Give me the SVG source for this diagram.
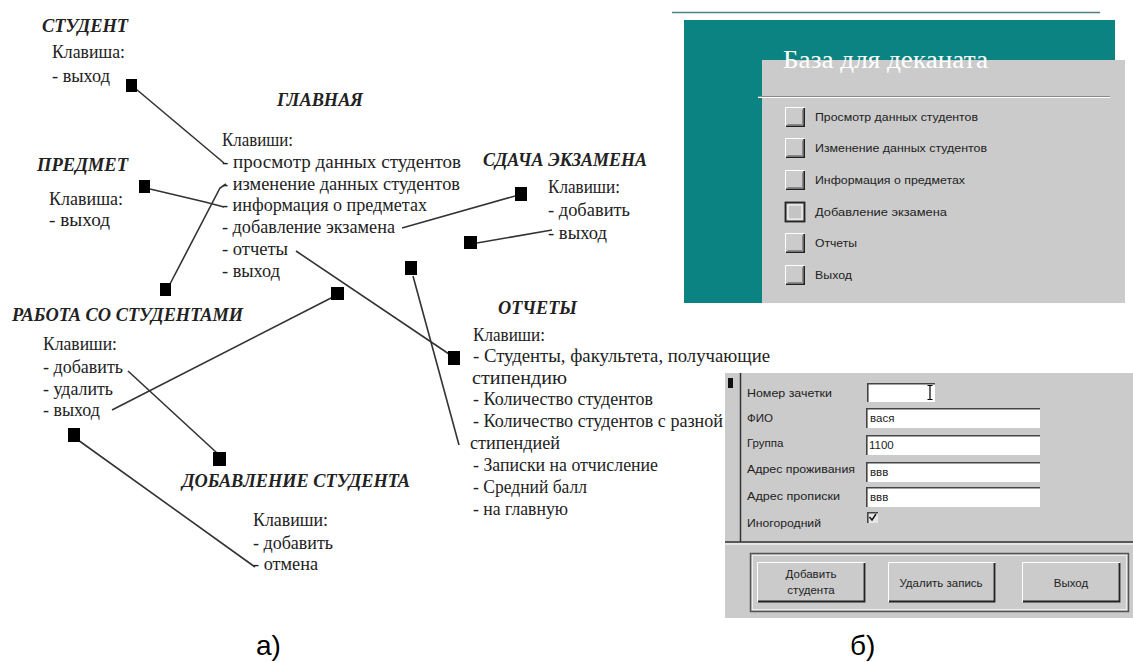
<svg xmlns="http://www.w3.org/2000/svg" xmlns:xlink="http://www.w3.org/1999/xlink" width="1133" height="662" viewBox="0 0 1133 662">
<style>
.h{font-family:"Liberation Serif",serif;font-weight:bold;font-style:italic;font-size:18.5px;fill:#222}
.t{font-family:"Liberation Serif",serif;font-size:18px;fill:#222}
.c{fill:none;stroke:#333;stroke-width:1.6}
.p{fill:#000}
.ui{font-family:"Liberation Sans",Arial,sans-serif;font-size:11.5px;fill:#222}
.fl{font-family:"Liberation Sans",Arial,sans-serif;font-size:11.5px;fill:#222}
.cap{font-family:"Liberation Sans",Arial,sans-serif;font-size:28px;fill:#000}
.box{fill:#fff}
.bd{fill:none;stroke:#444;stroke-width:1.6}
.hl{fill:none;stroke:#fff;stroke-width:1}
.sh{fill:none;stroke:#222;stroke-width:1.8}
</style>
<defs>
<g id="btn">
<rect width="20" height="20" fill="#cbcbcb"/>
<path d="M0.5 19.5V0.5H19.5" stroke="#fff" fill="none"/>
<path d="M1 19.2H19.2V1" stroke="#222" stroke-width="1.6" fill="none"/>
<path d="M2.5 17.5H17.5V2.5" stroke="#8a8a8a" fill="none"/>
</g>
</defs>
<rect width="1133" height="662" fill="#fff"/>

<g id="node-student">
<text class="h" x="42" y="32" textLength="86" lengthAdjust="spacingAndGlyphs">СТУДЕНТ</text>
<text class="t" x="52" y="58" textLength="73" lengthAdjust="spacingAndGlyphs">Клавиша:</text>
<text class="t" x="52" y="82" textLength="58" lengthAdjust="spacingAndGlyphs">- выход</text>
</g>

<g id="node-main">
<text class="h" x="277" y="106" textLength="86" lengthAdjust="spacingAndGlyphs">ГЛАВНАЯ</text>
<text class="t" x="222" y="146" textLength="71" lengthAdjust="spacingAndGlyphs">Клавиши:</text>
<text class="t" x="222" y="168" textLength="239" lengthAdjust="spacingAndGlyphs">- просмотр данных студентов</text>
<text class="t" x="222" y="190" textLength="238" lengthAdjust="spacingAndGlyphs">- изменение данных студентов</text>
<text class="t" x="222" y="211" textLength="205" lengthAdjust="spacingAndGlyphs">- информация о предметах</text>
<text class="t" x="222" y="233" textLength="173" lengthAdjust="spacingAndGlyphs">- добавление экзамена</text>
<text class="t" x="222" y="255" textLength="66" lengthAdjust="spacingAndGlyphs">- отчеты</text>
<text class="t" x="222" y="277" textLength="58" lengthAdjust="spacingAndGlyphs">- выход</text>
</g>

<g id="node-subject">
<text class="h" x="37" y="171" textLength="91" lengthAdjust="spacingAndGlyphs">ПРЕДМЕТ</text>
<text class="t" x="49" y="205" textLength="74" lengthAdjust="spacingAndGlyphs">Клавиша:</text>
<text class="t" x="49" y="226" textLength="61" lengthAdjust="spacingAndGlyphs">- выход</text>
</g>

<g id="node-exam">
<text class="h" x="483" y="166" textLength="164" lengthAdjust="spacingAndGlyphs">СДАЧА ЭКЗАМЕНА</text>
<text class="t" x="548" y="193" textLength="72" lengthAdjust="spacingAndGlyphs">Клавиши:</text>
<text class="t" x="548" y="216" textLength="82" lengthAdjust="spacingAndGlyphs">- добавить</text>
<text class="t" x="548" y="239" textLength="59" lengthAdjust="spacingAndGlyphs">- выход</text>
</g>

<g id="node-work">
<text class="h" x="12" y="321" textLength="231" lengthAdjust="spacingAndGlyphs">РАБОТА СО СТУДЕНТАМИ</text>
<text class="t" x="43" y="350" textLength="74" lengthAdjust="spacingAndGlyphs">Клавиши:</text>
<text class="t" x="43" y="373" textLength="80" lengthAdjust="spacingAndGlyphs">- добавить</text>
<text class="t" x="43" y="395" textLength="70" lengthAdjust="spacingAndGlyphs">- удалить</text>
<text class="t" x="43" y="416" textLength="57" lengthAdjust="spacingAndGlyphs">- выход</text>
</g>

<g id="node-reports">
<text class="h" x="498" y="314" textLength="79" lengthAdjust="spacingAndGlyphs">ОТЧЕТЫ</text>
<text class="t" x="473" y="341" textLength="72" lengthAdjust="spacingAndGlyphs">Клавиши:</text>
<text class="t" x="473" y="362" textLength="297" lengthAdjust="spacingAndGlyphs">- Студенты, факультета, получающие</text>
<text class="t" x="472" y="384" textLength="95" lengthAdjust="spacingAndGlyphs">стипендию</text>
<text class="t" x="473" y="405" textLength="180" lengthAdjust="spacingAndGlyphs">- Количество студентов</text>
<text class="t" x="473" y="427" textLength="250" lengthAdjust="spacingAndGlyphs">- Количество студентов с разной</text>
<text class="t" x="470" y="449" textLength="90" lengthAdjust="spacingAndGlyphs">стипендией</text>
<text class="t" x="473" y="471" textLength="185" lengthAdjust="spacingAndGlyphs">- Записки на отчисление</text>
<text class="t" x="473" y="493" textLength="114" lengthAdjust="spacingAndGlyphs">- Средний балл</text>
<text class="t" x="473" y="515" textLength="95" lengthAdjust="spacingAndGlyphs">- на главную</text>
</g>

<g id="node-add-student">
<text class="h" x="182" y="487" textLength="228" lengthAdjust="spacingAndGlyphs">ДОБАВЛЕНИЕ СТУДЕНТА</text>
<text class="t" x="253" y="526" textLength="75" lengthAdjust="spacingAndGlyphs">Клавиши:</text>
<text class="t" x="253" y="549" textLength="80" lengthAdjust="spacingAndGlyphs">- добавить</text>
<text class="t" x="253" y="570" textLength="65" lengthAdjust="spacingAndGlyphs">- отмена</text>
</g>

<g id="connectors">
<path class="c" d="M136 89L224 163"/>
<path class="c" d="M150 189L205 202L224 207"/>
<path class="c" d="M170 284L220 188L226 184"/>
<path class="c" d="M296 251L449 354"/>
<path class="c" d="M333 297L112 410"/>
<path class="c" d="M128 371L217 453"/>
<path class="c" d="M78 440L255 567"/>
<path class="c" d="M402 228L515 196"/>
<path class="c" d="M477 243L552 230"/>
<path class="c" d="M413 276L459 445"/>
<g id="ports">
<rect class="p" x="126" y="79" width="11" height="13"/>
<rect class="p" x="139" y="180" width="11" height="13"/>
<rect class="p" x="160" y="283" width="11" height="13"/>
<rect class="p" x="331" y="287" width="13" height="13"/>
<rect class="p" x="405" y="261" width="12" height="14"/>
<rect class="p" x="515" y="187" width="12" height="14"/>
<rect class="p" x="464" y="236" width="13" height="13"/>
<rect class="p" x="448" y="351" width="12" height="14"/>
<rect class="p" x="213" y="452" width="13" height="14"/>
<rect class="p" x="68" y="428" width="12" height="14"/>
</g>
</g>

<g id="screen-main">
<line x1="672" y1="12.5" x2="1100" y2="12.5" stroke="#4f7f7f" stroke-width="1.5"/>
<rect x="684" y="20" width="431" height="283" fill="#0b8383"/>
<rect x="762" y="60" width="363" height="243" fill="#cbcbcb"/>
<text x="783" y="68" font-family="Liberation Serif, serif" font-size="25" fill="#fff" textLength="205" lengthAdjust="spacingAndGlyphs">База для деканата</text>
<line x1="758" y1="96.5" x2="1110" y2="96.5" stroke="#8a8a8a"/>
<line x1="758" y1="97.5" x2="1110" y2="97.5" stroke="#fff"/>
<use xlink:href="#btn" x="785" y="107"/>
<use xlink:href="#btn" x="785" y="138"/>
<use xlink:href="#btn" x="785" y="170"/>
<rect x="785.5" y="202.5" width="19" height="19" fill="#c4c4c4" stroke="#222" stroke-width="1.8"/>
<rect x="788" y="205" width="14" height="14" fill="none" stroke="#fff"/>
<use xlink:href="#btn" x="785" y="233"/>
<use xlink:href="#btn" x="785" y="265"/>
<text class="ui" x="815" y="121" textLength="163" lengthAdjust="spacingAndGlyphs">Просмотр данных студентов</text>
<text class="ui" x="815" y="152" textLength="172" lengthAdjust="spacingAndGlyphs">Изменение данных студентов</text>
<text class="ui" x="815" y="184" textLength="150" lengthAdjust="spacingAndGlyphs">Информация о предметах</text>
<text class="ui" x="815" y="216" textLength="132" lengthAdjust="spacingAndGlyphs">Добавление экзамена</text>
<text class="ui" x="815" y="247" textLength="42" lengthAdjust="spacingAndGlyphs">Отчеты</text>
<text class="ui" x="815" y="279" textLength="37" lengthAdjust="spacingAndGlyphs">Выход</text>
</g>

<g id="screen-form">
<rect x="725" y="373" width="408" height="245" fill="#cbcbcb"/>
<rect x="728" y="378" width="5" height="10" fill="#111"/>
<line x1="740.5" y1="373" x2="740.5" y2="542" stroke="#333" stroke-width="1.5"/>
<line x1="725" y1="542" x2="1133" y2="542" stroke="#333" stroke-width="1.5"/>
<line x1="725" y1="544" x2="1133" y2="544" stroke="#fff"/>
<text class="fl" x="747" y="397" textLength="85" lengthAdjust="spacingAndGlyphs">Номер зачетки</text>
<text class="fl" x="747" y="422">ФИО</text>
<text class="fl" x="747" y="447">Группа</text>
<text class="fl" x="747" y="473" textLength="108" lengthAdjust="spacingAndGlyphs">Адрес проживания</text>
<text class="fl" x="747" y="500" textLength="93" lengthAdjust="spacingAndGlyphs">Адрес прописки</text>
<text class="fl" x="747" y="527" textLength="74" lengthAdjust="spacingAndGlyphs">Иногородний</text>
<rect class="box" x="867" y="383" width="68" height="19"/>
<path class="bd" d="M867.8 402V383.8H935"/>
<path d="M927.5 385.5h5M930 385.5v14M927.5 399.5h5" stroke="#000" stroke-width="1.2" fill="none"/>
<rect class="box" x="866" y="408" width="174" height="20"/>
<path class="bd" d="M866.8 428V408.8H1040"/>
<rect class="box" x="866" y="435" width="174" height="20"/>
<path class="bd" d="M866.8 455V435.8H1040"/>
<rect class="box" x="866" y="462" width="174" height="20"/>
<path class="bd" d="M866.8 482V462.8H1040"/>
<rect class="box" x="866" y="487" width="174" height="20"/>
<path class="bd" d="M866.8 507V487.8H1040"/>
<text class="fl" x="870" y="422">вася</text>
<text class="fl" x="869" y="449">1100</text>
<text class="fl" x="870" y="476">ввв</text>
<text class="fl" x="870" y="501">ввв</text>
<rect x="867" y="512" width="11" height="11" fill="#e6e6e6"/>
<path class="bd" d="M867.8 523V512.8H878"/>
<path d="M869.5 517l2.5 3l4-6" stroke="#111" stroke-width="1.4" fill="none"/>
<rect x="750.5" y="553.5" width="378" height="58" fill="none" stroke="#555" stroke-width="1.5"/>
<rect x="752.5" y="555.5" width="374" height="54" fill="none" stroke="#eee"/>
<g>
<rect x="757" y="562" width="108" height="40" fill="#cbcbcb"/>
<path class="hl" d="M757.5 602V562.5H865"/>
<path class="sh" d="M758 601.5H864.5V563"/>
<text class="fl" x="811" y="578" text-anchor="middle">Добавить</text>
<text class="fl" x="811" y="594" text-anchor="middle">студента</text>
</g>
<g>
<rect x="888" y="562" width="107" height="40" fill="#cbcbcb"/>
<path class="hl" d="M888.5 602V562.5H995"/>
<path class="sh" d="M889 601.5H994.5V563"/>
<text class="fl" x="941" y="587" text-anchor="middle">Удалить запись</text>
</g>
<g>
<rect x="1022" y="562" width="98" height="40" fill="#cbcbcb"/>
<path class="hl" d="M1022.5 602V562.5H1120"/>
<path class="sh" d="M1023 601.5H1119.5V563"/>
<text class="fl" x="1071" y="587" text-anchor="middle">Выход</text>
</g>
</g>

<g id="captions">
<text class="cap" x="256" y="655">а)</text>
<text class="cap" x="850" y="655">б)</text>
</g>
</svg>
